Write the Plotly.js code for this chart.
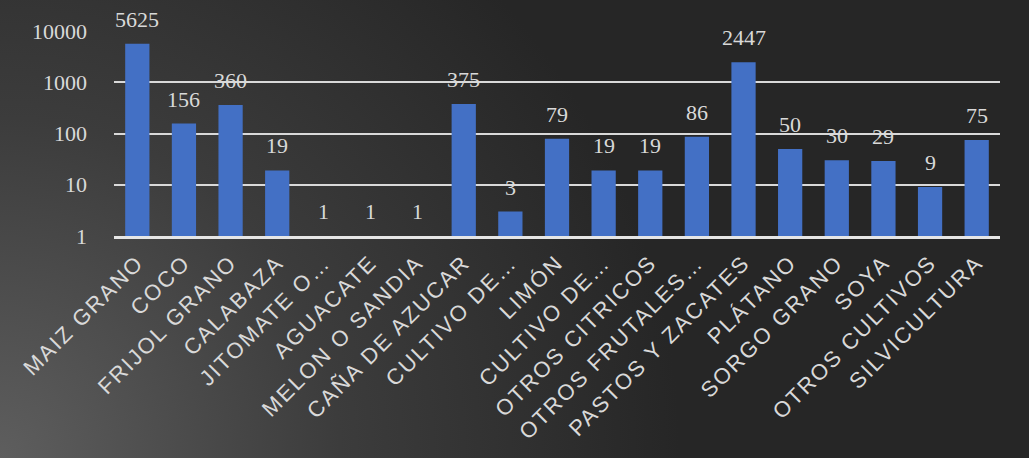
<!DOCTYPE html>
<html>
<head>
<meta charset="utf-8">
<script src="https://cdn.plot.ly/plotly-3.0.1.min.js"></script>
<style>
html,body{margin:0;padding:0;}
body{width:1029px;height:458px;overflow:hidden;
background:radial-gradient(circle 680px at 0% 100%, #5e5e5e 0%, #3c3c3c 50%, #262626 100%);}
#chart{width:1029px;height:458px;}
.xtick text{letter-spacing:2px;}
</style>
</head>
<body>
<div id="chart"></div>
<script>
const categories = ["MAIZ GRANO","COCO","FRIJOL GRANO","CALABAZA","JITOMATE O…","AGUACATE","MELON O SANDIA","CAÑA DE AZUCAR","CULTIVO DE…","LIMÓN","CULTIVO DE…","OTROS CITRICOS","OTROS FRUTALES…","PASTOS Y ZACATES","PLÁTANO","SORGO GRANO","SOYA","OTROS CULTIVOS","SILVICULTURA"];
const values = [5625,156,360,19,1,1,1,375,3,79,19,19,86,2447,50,30,29,9,75];
const yTickVals = [1,10,100,1000,10000];
const yTickText = ["1","10","100","1000","10000"];

const idx = categories.map((c,i)=>i);
const SERIF = 'Liberation Serif, Times New Roman, serif';
const SANS = 'Liberation Sans, Arial, sans-serif';

const trace = {
  type:'bar', x: idx, y: values,
  marker:{color:'#4370c5', line:{width:0}},
  hoverinfo:'none', cliponaxis:false
};

const annotations = values.map((v,i)=>({
  x:i, y:Math.log10(v), xref:'x', yref:'y',
  text:String(v), showarrow:false, yanchor:'bottom', yshift:10,
  font:{family:SERIF, size:22, color:'#d9d9d9'}
}));

const layout = {
  width:1029, height:458,
  margin:{l:114, r:29, t:31, b:222},
  paper_bgcolor:'rgba(0,0,0,0)', plot_bgcolor:'rgba(0,0,0,0)',
  bargap:0.48,
  showlegend:false,
  xaxis:{
    range:[-0.5, categories.length-0.5],
    tickmode:'array', tickvals: idx, ticktext: categories,
    tickangle:-45, showgrid:false, zeroline:false,
    showline:true, linecolor:'#e6e6e6', linewidth:3,
    ticks:'', ticklabelstandoff:2,
    tickfont:{family:SANS, size:22, color:'#d9d9d9'}
  },
  yaxis:{
    type:'log', range:[0,4],
    tickmode:'array', tickvals: yTickVals, ticktext: yTickText,
    showgrid:true, gridcolor:'#d9d9d9', gridwidth:2,
    zeroline:false, showline:false, ticks:'', ticklabelstandoff:26,
    tickfont:{family:SERIF, size:22, color:'#d9d9d9'}
  },
  annotations: annotations
};

Plotly.newPlot('chart',[trace],layout,{displayModeBar:false, staticPlot:true});
</script>
</body>
</html>
